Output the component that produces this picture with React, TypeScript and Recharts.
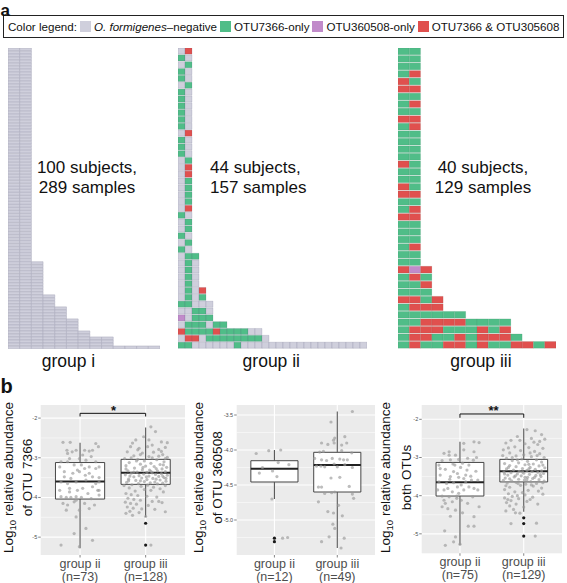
import React from 'react';
import {
  BarChart,
  Bar,
  Cell,
  XAxis,
  YAxis,
  ScatterChart,
  Scatter,
  CartesianGrid,
  ReferenceArea,
  ReferenceLine,
} from 'recharts';

const FONT = '"Liberation Sans", Arial, Helvetica, sans-serif';

// ---------- panel a: sample status per subject ----------
// N = negative, G = OTU7366-only, P = OTU360508-only, R = both
const statusColors: Record<string, string> = {
  N: '#cfcfdc',
  G: '#50bd88',
  P: '#c18bca',
  R: '#e0504e',
};

const legendLabels = ['O. formigenes–negative', 'OTU7366-only', 'OTU360508-only', 'OTU7366 & OTU305608'];
const legendCodes = ['N', 'G', 'P', 'R'];

// group i: [samples per subject, number of subjects], all negative
const groupIRowRuns: [number, number][] = [
  [2, 71], [3, 11], [4, 4], [5, 4], [6, 4], [7, 2], [9, 3], [13, 1],
];

const groupIIRows = [
  'NR', 'GN', 'NG', 'GN', 'GN', 'NG', 'GN', 'GN', 'GN', 'GN',
  'GN', 'GN', 'NR', 'GN', 'GN', 'GN', 'NG', 'NR', 'NR', 'NG',
  'NG', 'NG', 'NG', 'NR', 'GN', 'NG', 'NG', 'GN', 'NG', 'GN',
  'NGG', 'NGN', 'NGN', 'NGN', 'NGN',
  'NGNR', 'NGNG',
  'GGNNN', 'NNGGN', 'PNGGG',
  'NGGGNGG',
  'RGGGGRGGGGNN',
  'NRRNGGGGGGGGN',
  'GGNNNNNNGNNNNNNNNNNNNNNNNNN',
];

const groupIIIRows = [
  'GG', 'GG', 'GG', 'GR', 'RG', 'RR', 'GG', 'GR', 'GG', 'RR',
  'GR', 'GG', 'GG', 'GG', 'GG', 'RG', 'GG', 'GG', 'RG', 'RR',
  'GG', 'GR', 'RR', 'GG', 'GG', 'GG', 'GR', 'GG', 'GG',
  'RPR', 'GRG', 'GGR', 'GGG',
  'RRGR', 'GRRR',
  'GGGGGG',
  'GGRRRRGGGG',
  'GRRRGGGRGR',
  'GRRGGRGRRRG',
  'GRGGRRGRGGRRGR',
];

const groupIRows = groupIRowRuns.flatMap(([len, n]) => Array.from({ length: n }, () => 'N'.repeat(len)));

// ---------- panel b: box plots ----------
const boxGroupNames = ['group ii', 'group iii'];

// stats per group: [lower whisker, Q1, median, Q3, upper whisker]
const otu7366Counts = [73, 128];
const otu7366Stats = [
  [-5.28, -4.04, -3.6, -3.12, -2.62],
  [-4.49, -3.67, -3.38, -3.04, -2.24],
];
const otu7366Outliers = [[], [-4.65, -5.2]];
// jittered points: [x offset, log10 abundance]
const otu7366GroupII = [
  [-0.26, -2.61], [-0.15, -2.61], [-0.2, -2.81], [-0.12, -2.85], [-0.06, -2.81], [0.07, -2.81], [0.14, -2.83], [0.19, -2.81], [0.24, -2.64], [0.28, -2.72],
  [-0.16, -3.02], [-0.01, -3.02], [0.09, -3.06], [0.17, -2.97], [-0.29, -3.1], [-0.19, -3.1], [-0.09, -3.18], [0.02, -3.18], [0.14, -3.23], [0.24, -3.27],
  [0.29, -3.23], [-0.24, -3.35], [-0.11, -3.39], [-0.01, -3.35], [0.08, -3.44], [0.19, -3.48], [0.29, -3.5], [-0.29, -3.61], [-0.19, -3.65], [-0.06, -3.61],
  [0.09, -3.56], [0.24, -3.65], [0.29, -3.61], [-0.31, -3.82], [-0.16, -3.77], [-0.04, -3.82], [0.04, -3.77], [0.19, -3.73], [0.27, -3.82], [-0.29, -3.98],
  [-0.21, -4.0], [-0.14, -4.0], [-0.06, -3.98], [0.02, -4.0], [0.17, -4.03], [0.29, -3.94], [-0.26, -4.15], [-0.19, -4.19], [-0.09, -4.11], [0.07, -4.15],
  [0.22, -4.19], [-0.21, -4.32], [-0.01, -4.32], [0.14, -4.28], [-0.06, -4.49], [-0.09, -4.91], [0.09, -4.78], [-0.29, -5.2], [0.19, -5.08], [-0.01, -5.24],
  [-0.06, -4.07], [0.12, -3.9], [-0.14, -3.52], [0.07, -3.27], [-0.19, -2.89], [0.04, -2.93], [0.24, -3.1], [-0.24, -3.48], [0.14, -3.39], [-0.16, -3.86],
  [0.29, -3.82], [-0.31, -3.23], [-0.04, -3.31],
];
const otu7366GroupIII = [
  [0.08, -2.22], [0.15, -2.34], [-0.03, -2.47], [0.24, -2.6], [-0.15, -2.55], [0.1, -2.68], [-0.23, -2.72], [-0.1, -2.76], [0.03, -2.72], [0.2, -2.79],
  [0.3, -2.74], [-0.28, -2.85], [-0.05, -2.88], [0.12, -2.86], [0.26, -2.92], [-0.18, -2.95], [0.05, -2.97], [0.33, -2.99], [-0.32, -3.02], [-0.12, -3.04],
  [0.17, -3.05], [-0.02, -3.08], [0.28, -3.1], [-0.25, -3.12], [0.08, -3.14], [-0.08, -3.16], [0.22, -3.17], [-0.3, -3.2], [0.0, -3.21], [0.13, -3.22],
  [0.32, -3.24], [-0.17, -3.26], [0.25, -3.28], [-0.05, -3.3], [0.06, -3.31], [-0.27, -3.33], [0.18, -3.33], [0.3, -3.35], [-0.13, -3.36], [0.02, -3.37],
  [0.1, -3.38], [-0.22, -3.39], [0.24, -3.4], [-0.03, -3.41], [0.15, -3.42], [-0.31, -3.43], [0.33, -3.44], [-0.1, -3.45], [0.05, -3.46], [0.2, -3.47],
  [-0.18, -3.48], [0.28, -3.5], [-0.06, -3.51], [0.11, -3.52], [-0.26, -3.54], [0.02, -3.55], [0.22, -3.56], [-0.15, -3.57], [0.31, -3.59], [-0.02, -3.6],
  [0.14, -3.61], [-0.29, -3.62], [0.07, -3.63], [0.26, -3.64], [-0.11, -3.65], [0.18, -3.66], [-0.21, -3.68], [0.03, -3.69], [0.3, -3.7], [-0.07, -3.72],
  [0.12, -3.74], [-0.25, -3.76], [0.22, -3.78], [-0.02, -3.8], [0.08, -3.82], [-0.16, -3.84], [0.27, -3.86], [-0.3, -3.9], [-0.22, -3.93], [-0.12, -3.95],
  [0.02, -3.97], [0.17, -3.99], [-0.27, -4.02], [-0.18, -4.05], [-0.08, -4.07], [0.1, -4.1], [-0.31, -4.12], [-0.23, -4.15], [-0.14, -4.17], [0.04, -4.2],
  [0.25, -4.13], [-0.28, -4.24], [-0.19, -4.27], [-0.06, -4.29], [0.14, -4.3], [-0.24, -4.35], [-0.1, -4.38], [0.3, -4.36], [-0.2, -4.45], [0.0, -4.48],
  [-0.3, -4.4], [0.2, -4.1], [0.08, -5.2], [0.33, -2.62], [-0.2, -2.63], [0.05, -2.55], [-0.08, -2.92], [0.2, -2.96], [-0.22, -3.0], [0.1, -3.0],
  [-0.14, -3.08], [0.27, -3.18], [-0.04, -3.24], [0.16, -3.27], [-0.3, -3.28], [0.08, -3.34], [-0.18, -3.36], [0.26, -3.46], [-0.08, -3.58], [0.16, -3.54],
  [-0.24, -3.46], [0.01, -3.48], [0.31, -3.52], [-0.33, -3.7], [0.24, -2.84], [-0.12, -2.8], [0.3, -3.02], [-0.26, -3.58],
];

const otu360508Counts = [12, 49];
const otu360508Stats = [
  [-4.7, -4.457, -4.267, -4.153, -4.0],
  [-5.4, -4.6, -4.214, -4.033, -3.45],
];
const otu360508Outliers = [[-5.26, -5.31], []];
const otu360508GroupII = [
  [-0.29, -4.05], [-0.09, -4.01], [0.1, -4.0], [0.06, -4.18], [0.23, -4.21], [-0.19, -4.25],
  [-0.24, -4.33], [-0.03, -4.3], [0.04, -4.38], [-0.04, -4.7], [0.13, -5.26], [0.21, -5.25],
];
const otu360508GroupIII = [
  [0.24, -3.45], [-0.1, -3.6], [-0.25, -3.9], [-0.15, -3.92], [-0.06, -3.86], [-0.04, -3.83], [0.07, -3.93], [0.15, -3.9], [-0.28, -4.03], [-0.22, -4.02],
  [0.07, -4.01], [0.23, -4.04], [-0.36, -4.12], [-0.25, -4.14], [-0.17, -4.15], [-0.08, -4.12], [0.04, -4.13], [0.1, -4.14], [0.16, -4.14], [-0.33, -4.23],
  [-0.26, -4.23], [-0.2, -4.24], [-0.05, -4.2], [0.0, -4.24], [0.12, -4.21], [0.24, -4.25], [-0.1, -4.4], [0.04, -4.39], [-0.3, -4.53], [-0.25, -4.53],
  [0.19, -4.52], [-0.2, -4.62], [-0.09, -4.61], [-0.04, -4.6], [0.24, -4.63], [0.26, -4.69], [-0.3, -4.74], [0.02, -4.79], [-0.15, -4.88], [-0.06, -4.9],
  [-0.07, -5.06], [-0.04, -5.12], [0.08, -4.94], [-0.13, -5.24], [0.11, -5.26], [-0.25, -5.31], [0.06, -5.4], [-0.05, -3.9], [0.12, -3.81],
];

const bothCounts = [75, 129];
const bothStats = [
  [-5.3, -4.01, -3.65, -3.13, -2.59],
  [-4.42, -3.64, -3.36, -3.05, -2.24],
];
const bothOutliers = [[], [-4.58, -4.73, -5.06]];
const bothGroupII = [
  [0.22, -2.59], [0.3, -2.61], [0.06, -2.8], [-0.25, -2.89], [-0.17, -2.94], [-0.07, -2.94], [-0.28, -3.08], [-0.02, -3.05], [0.12, -3.02], [0.21, -3.07],
  [-0.31, -3.29], [-0.23, -3.31], [-0.1, -3.37], [0.01, -3.26], [0.11, -3.33], [0.25, -3.36], [-0.15, -3.5], [-0.02, -3.52], [0.06, -3.55], [0.17, -3.49],
  [-0.33, -3.64], [-0.21, -3.68], [-0.1, -3.66], [0.02, -3.72], [0.14, -3.77], [0.22, -3.81], [-0.25, -3.85], [-0.12, -3.9], [-0.02, -3.94], [-0.28, -4.01],
  [-0.17, -4.03], [-0.05, -4.07], [-0.12, -4.16], [-0.23, -4.2], [-0.19, -4.34], [-0.07, -4.38], [0.3, -4.29], [0.22, -4.55], [0.13, -4.8], [0.22, -4.8],
  [-0.24, -4.92], [-0.07, -5.08], [-0.1, -5.21], [-0.23, -5.3], [0.0, -5.27], [-0.15, -3.06], [0.04, -3.15], [0.14, -3.2], [-0.33, -3.2], [-0.04, -3.42],
  [0.09, -3.46], [-0.31, -3.46], [-0.16, -3.57], [0.28, -3.59], [-0.04, -3.77], [0.06, -3.85], [-0.19, -3.81], [0.2, -4.03], [0.02, -4.12], [0.12, -4.2],
  [-0.28, -4.29], [0.04, -4.45], [-0.15, -4.54], [0.28, -3.85], [-0.35, -3.85], [-0.11, -3.17], [0.22, -2.85], [0.09, -3.64], [-0.05, -4.01], [0.18, -3.59],
  [-0.25, -4.12], [0.06, -2.63], [-0.17, -2.85], [0.26, -3.0], [-0.08, -3.2],
];
const bothGroupIII = [
  [0.05, -2.27], [0.18, -2.3], [-0.1, -2.45], [0.28, -2.4], [-0.2, -2.55], [0.12, -2.5], [0.33, -2.52], [-0.28, -2.62], [0.02, -2.64], [0.22, -2.66],
  [-0.14, -2.72], [0.08, -2.74], [0.3, -2.76], [-0.32, -2.8], [-0.05, -2.82], [0.17, -2.84], [-0.22, -2.88], [0.25, -2.9], [0.0, -2.93], [-0.12, -2.96],
  [0.12, -2.98], [0.32, -3.0], [-0.27, -3.02], [-0.03, -3.04], [0.2, -3.06], [-0.18, -3.08], [0.06, -3.1], [0.28, -3.12], [-0.08, -3.14], [-0.3, -3.16],
  [0.15, -3.17], [0.02, -3.19], [-0.22, -3.21], [0.24, -3.22], [-0.12, -3.24], [0.1, -3.26], [0.33, -3.27], [-0.02, -3.29], [-0.27, -3.3], [0.18, -3.31],
  [-0.16, -3.33], [0.05, -3.34], [0.28, -3.35], [-0.07, -3.36], [0.13, -3.37], [-0.31, -3.38], [0.22, -3.39], [-0.2, -3.4], [0.0, -3.41], [0.31, -3.42],
  [-0.1, -3.43], [0.09, -3.44], [-0.25, -3.46], [0.19, -3.47], [-0.04, -3.48], [0.27, -3.5], [-0.15, -3.51], [0.06, -3.52], [-0.29, -3.54], [0.14, -3.55],
  [-0.08, -3.57], [0.24, -3.58], [0.01, -3.59], [-0.19, -3.61], [0.32, -3.62], [0.11, -3.63], [-0.12, -3.65], [-0.26, -3.67], [0.2, -3.68], [0.03, -3.7],
  [-0.05, -3.73], [0.15, -3.75], [-0.22, -3.78], [0.28, -3.8], [-0.3, -3.84], [0.07, -3.86], [-0.14, -3.9], [-0.24, -3.95], [0.02, -3.98], [-0.18, -4.02],
  [-0.3, -4.06], [-0.08, -4.08], [-0.2, -4.13], [0.1, -4.1], [-0.27, -4.18], [-0.12, -4.22], [-0.22, -4.27], [0.0, -4.3], [-0.16, -4.36], [-0.28, -4.4],
  [0.22, -4.22], [-0.06, -4.46], [-0.2, -4.73], [0.2, -4.72], [0.18, -5.06],
  [0.25, -2.58], [-0.24, -2.75], [0.1, -2.88], [-0.33, -2.95], [0.21, -2.95], [-0.1, -3.06], [0.3, -3.2], [-0.24, -3.26], [0.08, -3.3], [-0.02, -3.38],
  [0.26, -3.45], [-0.13, -3.48], [0.17, -3.52], [-0.22, -3.56], [0.05, -3.58], [-0.32, -3.6], [0.3, -3.66], [-0.09, -3.68], [0.12, -3.72], [-0.28, -3.74],
  [0.23, -3.88], [-0.02, -3.92], [0.3, -3.96], [-0.1, -4.0], [0.14, -4.04], [-0.25, -4.1], [0.05, -4.15], [-0.13, -4.45], [0.08, -3.18], [-0.18, -3.0],
  [0.16, -2.6], [-0.06, -2.55], [0.02, -3.52], [-0.3, -3.43],
];

// ---------- components ----------
function SampleGrid({ rows, cols, left, top, width, height, stroke }: any) {
  const data = rows.map((codes: string, i: number) => {
    const row: any = { subject: i };
    for (let k = 0; k < cols; k++) row['s' + k] = k < codes.length ? 1 : 0;
    return row;
  });
  return (
    <div style={{ position: 'absolute', left, top }}>
      <BarChart
        layout="vertical"
        width={width}
        height={height}
        data={data}
        margin={{ top: 0, right: 0, bottom: 0, left: 0 }}
        barCategoryGap={0}
        barGap={0}
        barSize={height / rows.length}
      >
        <XAxis type="number" domain={[0, cols]} allowDataOverflow hide />
        <YAxis type="category" dataKey="subject" hide />
        {Array.from({ length: cols }, (_, k) => (
          <Bar key={k} dataKey={'s' + k} stackId="a" isAnimationActive={false} stroke={stroke} strokeWidth={0.5}>
            {rows.map((codes: string, i: number) => (
              <Cell key={i} fill={statusColors[codes[k]] ?? 'none'} />
            ))}
          </Bar>
        ))}
      </BarChart>
    </div>
  );
}

function GroupTick({ x, y, payload, counts }: any) {
  const i = Math.round(payload.value) - 1;
  return (
    <text x={x} y={y} textAnchor="middle" fontFamily={FONT} fontSize={12.5} fill="#4d4d4d">
      <tspan x={x} dy={8}>{boxGroupNames[i]}</tspan>
      <tspan x={x} dy={13.5}>{`(n=${counts[i]})`}</tspan>
    </text>
  );
}

const dot = (fill: string, r: number, opacity: number) => (p: any) =>
  <circle cx={p.cx} cy={p.cy} r={r} fill={fill} fillOpacity={opacity} />;

function BoxPanel({
  left, top, width, height, plotLeft, plotRight, plotTop, axisHeight,
  domain, ticks, minor, fmt, counts, stats, outliers, groups, bracket,
}: any) {
  const jitter = groups.flatMap((pts: number[][], g: number) => pts.map(([dx, y]) => ({ x: g + 1 + dx, y })));
  const out = outliers.flatMap((ys: number[], g: number) => ys.map((y) => ({ x: g + 1, y })));
  return (
    <div style={{ position: 'absolute', left, top }}>
      <ScatterChart
        width={width}
        height={height}
        margin={{ top: plotTop, right: plotRight, bottom: 0, left: plotLeft - 14 }}
      >
        <CartesianGrid fill="#ebebeb" fillOpacity={1} stroke="#ffffff" strokeWidth={0.5} horizontalValues={minor} vertical={false} />
        <CartesianGrid stroke="#ffffff" strokeWidth={1.1} horizontalValues={ticks} verticalValues={[1, 2]} />
        <XAxis
          type="number"
          dataKey="x"
          domain={[0.4, 2.6]}
          allowDataOverflow
          ticks={[1, 2]}
          height={axisHeight}
          axisLine={false}
          tickSize={2.5}
          tickLine={{ stroke: '#333', strokeWidth: 0.6 }}
          tick={(p: any) => <GroupTick {...p} counts={counts} />}
        />
        <YAxis
          type="number"
          dataKey="y"
          domain={domain}
          allowDataOverflow
          ticks={ticks}
          width={14}
          axisLine={false}
          tickSize={2.5}
          tickMargin={1}
          tickLine={{ stroke: '#333', strokeWidth: 0.6 }}
          tick={{ fontSize: 5.5, fill: '#4d4d4d', fontFamily: FONT }}
          tickFormatter={fmt}
        />
        {stats.map(([lo, q1, med, q3, hi]: number[], g: number) => (
          <React.Fragment key={g}>
            <ReferenceLine segment={[{ x: g + 1, y: q3 }, { x: g + 1, y: hi }]} stroke="#555" strokeWidth={1.1} />
            <ReferenceLine segment={[{ x: g + 1, y: lo }, { x: g + 1, y: q1 }]} stroke="#555" strokeWidth={1.1} />
            <ReferenceArea x1={g + 0.625} x2={g + 1.375} y1={q1} y2={q3} fill="#ffffff" fillOpacity={1} stroke="#333" strokeWidth={0.9} />
            <ReferenceLine segment={[{ x: g + 0.625, y: med }, { x: g + 1.375, y: med }]} stroke="#222" strokeWidth={2} />
          </React.Fragment>
        ))}
        {bracket && (
          <>
            <ReferenceLine segment={[{ x: 1, y: bracket[0] }, { x: 2, y: bracket[0] }]} stroke="#111" strokeWidth={1} />
            <ReferenceLine segment={[{ x: 1, y: bracket[0] }, { x: 1, y: bracket[1] }]} stroke="#111" strokeWidth={1} />
            <ReferenceLine segment={[{ x: 2, y: bracket[0] }, { x: 2, y: bracket[1] }]} stroke="#111" strokeWidth={1} />
          </>
        )}
        <Scatter data={out} isAnimationActive={false} shape={dot('#1a1a1a', 1.6, 1)} />
        <Scatter data={jitter} isAnimationActive={false} shape={dot('#9a9a9a', 1.6, 0.65)} />
      </ScatterChart>
    </div>
  );
}

function AxisTitle({ x1, x2, cy, second }: any) {
  return (
    <>
      <text transform={`translate(${x1},${cy}) rotate(-90)`} textAnchor="middle" fontSize={13.5}>
        Log<tspan fontSize={9.5} dy={3}>10</tspan><tspan dy={-3}> relative abundance</tspan>
      </text>
      <text transform={`translate(${x2},${cy}) rotate(-90)`} textAnchor="middle" fontSize={13.5}>
        {second}
      </text>
    </>
  );
}

export default function App() {
  return (
    <div
      style={{
        position: 'absolute',
        left: 0,
        top: 0,
        width: 567,
        height: 583,
        background: '#fff',
        overflow: 'hidden',
        fontFamily: FONT,
      }}
    >
      {/* legend */}
      <div
        style={{
          position: 'absolute',
          left: 3,
          top: 15,
          width: 561,
          height: 23,
          boxSizing: 'border-box',
          border: '1.5px solid #222',
          display: 'flex',
          alignItems: 'center',
          padding: '0 4px',
          fontSize: 11.6,
          color: '#111',
          whiteSpace: 'nowrap',
        }}
      >
        <span style={{ flexShrink: 0 }}>Color legend:</span>
        {legendLabels.map((label, i) => (
          <React.Fragment key={label}>
            <span
              style={{
                display: 'inline-block',
                flexShrink: 0,
                width: 11,
                height: 11,
                background: statusColors[legendCodes[i]],
                margin: '0 3px 0 3px',
              }}
            />
            {i === 0 ? (
              <span style={{ flexShrink: 0 }}>
                <i>O. formigenes</i>–negative
              </span>
            ) : (
              <span style={{ flexShrink: 0 }}>{label}</span>
            )}
          </React.Fragment>
        ))}
      </div>

      <SampleGrid rows={groupIRows} cols={13} left={8} top={48} width={152} height={301} stroke="#a9a9bb" />
      <SampleGrid rows={groupIIRows} cols={27} left={178} top={48} width={189} height={301} stroke="rgba(90,90,120,0.3)" />
      <SampleGrid rows={groupIIIRows} cols={14} left={398} top={48} width={158} height={301} stroke="rgba(60,90,80,0.18)" />

      <BoxPanel
        left={0} top={390} width={190} height={193}
        plotLeft={40.7} plotRight={5} plotTop={15} axisHeight={28}
        domain={[-5.45, -1.67]} ticks={[-5, -4, -3, -2]} minor={[-4.5, -3.5, -2.5]}
        fmt={(v: number) => String(v)}
        counts={otu7366Counts} stats={otu7366Stats} outliers={otu7366Outliers}
        groups={[otu7366GroupII, otu7366GroupIII]} bracket={[-1.88, -1.96]}
      />
      <BoxPanel
        left={190} top={390} width={190} height={193}
        plotLeft={46.7} plotRight={5} plotTop={15} axisHeight={28}
        domain={[-5.5, -3.357]} ticks={[-5, -4.5, -4, -3.5]} minor={[-5.25, -4.75, -4.25, -3.75]}
        fmt={(v: number) => v.toFixed(1)}
        counts={otu360508Counts} stats={otu360508Stats} outliers={otu360508Outliers}
        groups={[otu360508GroupII, otu360508GroupIII]}
      />
      <BoxPanel
        left={375} top={390} width={192} height={193}
        plotLeft={46.7} plotRight={5} plotTop={15} axisHeight={29.7}
        domain={[-5.51, -1.625]} ticks={[-5, -4, -3, -2]} minor={[-4.5, -3.5, -2.5]}
        fmt={(v: number) => String(v)}
        counts={bothCounts} stats={bothStats} outliers={bothOutliers}
        groups={[bothGroupII, bothGroupIII]} bracket={[-1.86, -1.96]}
      />

      {/* text overlay */}
      <svg
        width={567}
        height={583}
        style={{ position: 'absolute', left: 0, top: 0, pointerEvents: 'none' }}
        fontFamily={FONT}
        fill="#111"
      >
        <text x={0.5} y={15.6} fontSize={17} fontWeight="bold">a</text>
        <text x={0.5} y={393} fontSize={20} fontWeight="bold">b</text>

        <text x={87} y={172.7} fontSize={17} textAnchor="middle">100 subjects,</text>
        <text x={87} y={192.7} fontSize={17} textAnchor="middle">289 samples</text>
        <text x={210} y={173.3} fontSize={17}>44 subjects,</text>
        <text x={210} y={192.7} fontSize={17}>157 samples</text>
        <text x={483} y={173} fontSize={17} textAnchor="middle">40 subjects,</text>
        <text x={483} y={192.7} fontSize={17} textAnchor="middle">129 samples</text>

        <text x={68.5} y={367} fontSize={17.5} textAnchor="middle">group i</text>
        <text x={271.3} y={367} fontSize={17.5} textAnchor="middle">group ii</text>
        <text x={481} y={367} fontSize={17.5} textAnchor="middle">group iii</text>

        <AxisTitle x1={13} x2={31.6} cy={477.5} second="of OTU 7366" />
        <AxisTitle x1={203} x2={221.5} cy={477.5} second="of OTU 360508" />
        <AxisTitle x1={389.5} x2={411} cy={477.5} second="both OTUs" />

        <text x={113.5} y={414.5} fontSize={13} fontWeight="bold" textAnchor="middle">*</text>
        <text x={493.5} y={415} fontSize={13} fontWeight="bold" textAnchor="middle">**</text>
      </svg>
    </div>
  );
}
